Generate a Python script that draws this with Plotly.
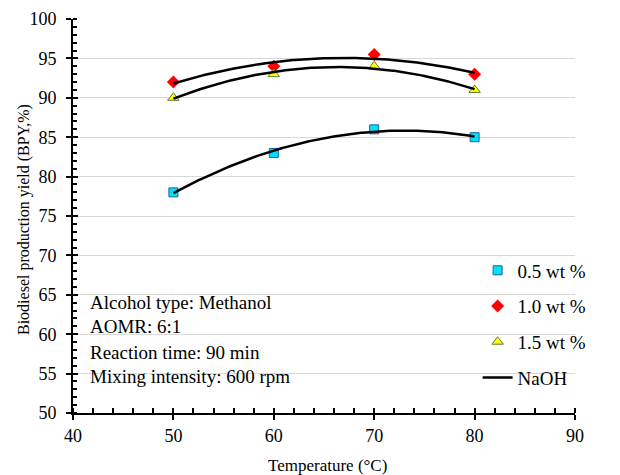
import numpy as np
import plotly.graph_objects as go

# Reaction temperature (°C) and biodiesel yield for each catalyst loading
temperature = [50, 60, 70, 80]
yield_05 = [78, 83, 86, 85]
yield_10 = [92, 94, 95.5, 93]
yield_15 = [90, 93, 94, 91]

series_names = ["0.5 wt %", "1.0 wt %", "1.5 wt %"]
y_ticks = [50, 55, 60, 65, 70, 75, 80, 85, 90, 95, 100]
x_ticks = [40, 50, 60, 70, 80, 90]
conditions = [
    "Alcohol type: Methanol",
    "AOMR: 6:1",
    "Reaction time: 90 min",
    "Mixing intensity: 600 rpm",
]

FONT = "Liberation Serif, Times New Roman, serif"
W, H = 620, 475
L, R, T, B = 73, 45, 19, 62

styles = [
    dict(symbol="square", size=9, color="#00E1F5", line=dict(color="#1F5FA8", width=1)),
    dict(symbol="diamond", size=10, color="#FF0000", line=dict(color="#FF0000", width=0)),
    dict(symbol="triangle-up", size=10, color="#FFFF00", line=dict(color="#5E7A3A", width=1)),
]

fig = go.Figure()

for i, (ys, name) in enumerate(zip([yield_05, yield_10, yield_15], series_names)):
    fig.add_trace(go.Scatter(
        x=temperature, y=ys, mode="markers", name=name,
        marker=styles[i], legendgroup=f"g{i}", legendrank=i + 1,
    ))

# Second-order polynomial trend lines through each data series
x_fit = np.linspace(min(temperature), max(temperature), 200)
for i, ys in enumerate([yield_05, yield_10, yield_15]):
    coeffs = np.polyfit(temperature, ys, 2)
    fig.add_trace(go.Scatter(
        x=x_fit, y=np.polyval(coeffs, x_fit), mode="lines",
        line=dict(color="black", width=2.5),
        name="NaOH", showlegend=(i == 0), legendgroup="g3", legendrank=4,
        hoverinfo="skip",
    ))

# Helper trace so the overlay axes (inner half of the major ticks) are drawn
fig.add_trace(go.Scatter(x=[40], y=[50], xaxis="x2", yaxis="y2", mode="markers",
                         marker=dict(opacity=0), showlegend=False, hoverinfo="skip"))

plot_h = H - T - B
plot_w = W - L - R


def py(y_px):
    return (H - B - y_px) / plot_h


def px(x_px):
    return (x_px - L) / plot_w


for text, y_px in zip(conditions, [302, 326, 352, 376]):
    fig.add_annotation(
        x=0.03, xref="paper", y=py(y_px), yref="paper",
        text=text, showarrow=False, xanchor="left", yanchor="middle",
        font=dict(family=FONT, size=19, color="black"),
    )

# Axis titles
fig.add_annotation(x=px(327), y=py(465), xref="paper", yref="paper", showarrow=False,
                   text="Temperature (°C)", xanchor="center", yanchor="middle",
                   font=dict(family=FONT, size=17, color="black"))
fig.add_annotation(x=px(24), y=py(220), xref="paper", yref="paper", showarrow=False,
                   text="Biodiesel production yield (BPY,%)", textangle=-90,
                   xanchor="center", yanchor="middle",
                   font=dict(family=FONT, size=16, color="black"))

axis_common = dict(showline=True, linecolor="black", linewidth=2, automargin=False,
                   ticks="outside", ticklen=5, tickwidth=2, tickcolor="black",
                   tickfont=dict(family=FONT, size=18, color="black"))

fig.update_layout(
    width=W, height=H,
    margin=dict(l=L, r=R, t=T, b=B),
    plot_bgcolor="white", paper_bgcolor="white",
    font=dict(family=FONT, color="black"),
    xaxis=dict(range=[40, 90], tickvals=x_ticks, showgrid=False, zeroline=False,
               minor=dict(dtick=2, ticks="inside", ticklen=5, tickwidth=2, tickcolor="black"),
               **axis_common),
    yaxis=dict(range=[50, 100], tickvals=y_ticks, showgrid=True, gridcolor="#D9D9D9", gridwidth=1,
               zeroline=False, ticklabelstandoff=6,
               minor=dict(dtick=1, ticks="inside", ticklen=4, tickwidth=2, tickcolor="black"),
               **axis_common),
    xaxis2=dict(range=[40, 90], overlaying="x", anchor="y", showticklabels=False, showgrid=False,
                automargin=False, zeroline=False, tickvals=x_ticks, ticks="inside", ticklen=5,
                tickwidth=2, tickcolor="black"),
    yaxis2=dict(range=[50, 100], overlaying="y", anchor="x", showticklabels=False, showgrid=False,
                automargin=False, zeroline=False, tickvals=y_ticks, ticks="inside", ticklen=5,
                tickwidth=2, tickcolor="black"),
    legend=dict(x=0.806, y=0.41, xanchor="left", yanchor="top",
                font=dict(family=FONT, size=19, color="black"),
                bgcolor="rgba(0,0,0,0)", traceorder="grouped", tracegroupgap=8,
                itemwidth=30),
)

fig.write_html("out.html")
